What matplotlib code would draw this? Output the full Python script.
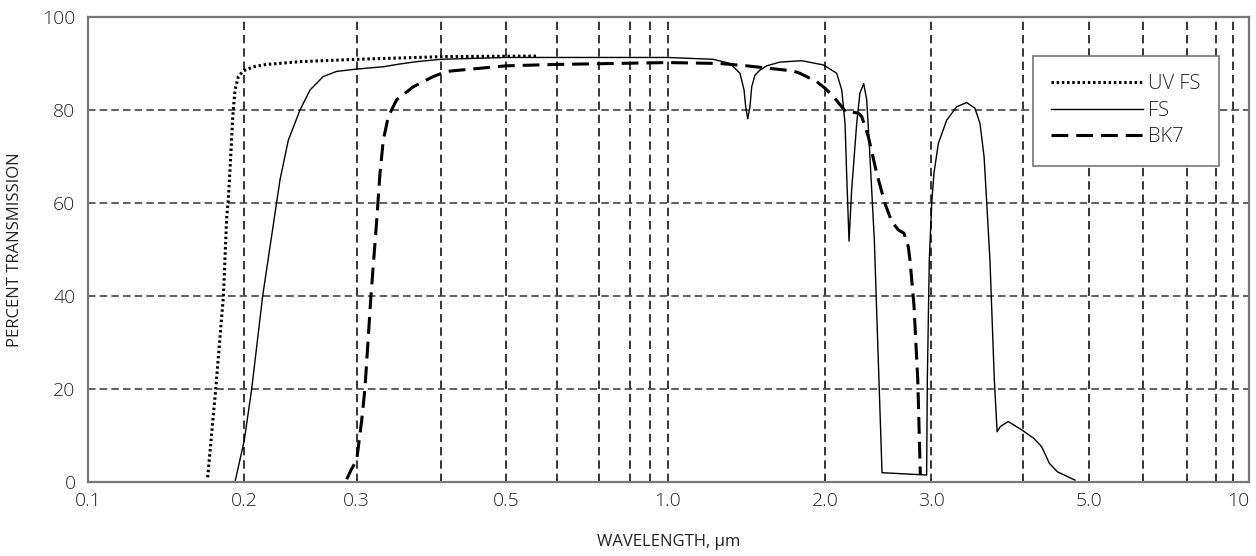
import numpy as np
import matplotlib
matplotlib.use("Agg")
import matplotlib.pyplot as plt
from matplotlib.scale import FuncScale

plt.rcParams['font.family'] = ['Open Sans', 'DejaVu Sans']
plt.rcParams['font.weight'] = 'light'

# transmission curves, wavelength in um / percent
uvfs_wl = [0.170, 0.1762, 0.1823, 0.1850, 0.1863, 0.1883, 0.1900, 0.1919, 0.1948, 0.1991,
           0.2066, 0.2168, 0.2445, 0.300, 0.4083, 0.5605]
uvfs_t = [1, 20, 40, 57, 60.6, 70, 78.6, 84.3, 87.2, 88.4,
          89.3, 89.8, 90.4, 90.9, 91.5, 91.6]

fs_wl = [0.1919, 0.200, 0.2054, 0.2137, 0.2226, 0.2275, 0.2344, 0.2445, 0.2535, 0.2659,
         0.2791, 0.300, 0.3286, 0.348, 0.3685, 0.400, 0.500, 1.000, 1.2226, 1.316,
         1.375, 1.400, 1.410, 1.423, 1.437, 1.448, 1.469, 1.502, 1.547, 1.640,
         1.805, 1.985, 2.091, 2.132, 2.159, 2.172, 2.192, 2.214, 2.257, 2.285,
         2.318, 2.345, 2.366, 2.390, 2.414, 2.486, 2.947, 2.955, 2.977, 3.004,
         3.025, 3.067, 3.148, 3.249, 3.352, 3.440, 3.495, 3.540, 3.570, 3.606,
         3.656, 3.688, 3.724, 3.818, 3.985, 4.148, 4.261, 4.375, 4.494, 4.771]
fs_t = [0, 9, 20, 40, 56.3, 65, 73.5, 80, 84.3, 87.2,
        88.3, 88.8, 89.3, 89.9, 90.4, 90.9, 91.3, 91.3, 90.9, 90.0,
        87.9, 84.3, 80.7, 78.1, 80.7, 85.0, 87.5, 88.6, 89.5, 90.3,
        90.6, 89.7, 87.9, 84.3, 77.1, 66.4, 51.8, 62.8, 77.1, 83.6,
        85.7, 82.2, 73.5, 62.8, 52.0, 2.0, 1.5, 22, 47.7, 60,
        66.4, 72.8, 77.8, 80.7, 81.6, 80.4, 77.1, 70, 60, 47.7,
        21.9, 10.8, 11.9, 13.0, 11.2, 9.4, 7.6, 4.0, 2.2, 0.4]

bk7_wl = [0.2894, 0.294, 0.300, 0.3052, 0.3086, 0.315, 0.3213, 0.3249, 0.3286, 0.3343,
          0.3440, 0.3642, 0.390, 0.4083, 0.500, 0.600, 1.000, 1.259, 1.416, 1.737,
          1.791, 1.928, 2.000, 2.064, 2.132, 2.172, 2.214, 2.271, 2.301, 2.359,
          2.436, 2.514, 2.580, 2.646, 2.703, 2.748, 2.766, 2.808, 2.849, 2.877]
bk7_t = [0.6, 2.6, 4.7, 13.3, 20.1, 40, 56.3, 66.4, 73.5, 78.6,
         82.2, 85.0, 87.2, 88.3, 89.5, 89.8, 90.2, 90.0, 89.5, 88.4,
         87.9, 86.1, 84.7, 82.9, 80.7, 79.4, 79.6, 79.3, 78.6, 74.3,
         66.4, 59.9, 56.0, 54.2, 53.5, 50.6, 47.7, 38, 22, 1.7]

xtick_vals = [0.1, 0.2, 0.3, 0.5, 1.0, 2.0, 3.0, 5.0, 10]
xtick_labels = ["0.1", "0.2", "0.3", "0.5", "1.0", "2.0", "3.0", "5.0", "10"]
xgrid_vals = [0.2, 0.3, 0.4, 0.5, 0.6, 0.7, 0.8, 0.9, 1, 2, 3, 4, 5, 6, 7, 8, 9]

# the printed axis is not a true log axis: knots of its (uneven) spacing
knot_wl = np.log10([0.1, 0.2, 0.3, 0.4, 0.5, 0.6, 0.7, 0.8, 0.9, 1.0,
                    2, 3, 4, 5, 6, 7, 8, 9, 10])
knot_pos = np.array([88, 244.3, 356.7, 440.7, 506, 557, 599.3, 630, 650.3, 667.7,
                     825, 931.3, 1023, 1088.8, 1142.8, 1186.5, 1215.6, 1233.3, 1249.0])


def fwd(x):
    x = np.clip(np.asarray(x, dtype=float), 1e-3, None)
    return np.interp(np.log10(x), knot_wl, knot_pos, left=knot_pos[0] - 1, right=knot_pos[-1] + 1)


def inv(p):
    return 10 ** np.interp(p, knot_pos, knot_wl)


fig = plt.figure(figsize=(12.56, 5.56), dpi=100)
ax = fig.add_axes([88 / 1256, 1 - 482 / 556, (1249 - 88) / 1256, (482 - 17) / 556])
ax.set_xscale(FuncScale(ax.xaxis, (fwd, inv)))
ax.set_xlim(0.1, 10)
ax.set_ylim(0, 100)

for g in xgrid_vals:
    ax.axvline(g, color='black', lw=1.1, dashes=(5.5, 3.2), zorder=1)
for g in [20, 40, 60, 80]:
    ax.axhline(g, color='#444444', lw=1.2, dashes=(4.5, 2.5), zorder=1)

ax.plot(uvfs_wl, uvfs_t, color='black', lw=2.2, dashes=(0.8, 0.9), label='UV FS', zorder=3)
ax.plot(fs_wl, fs_t, color='black', lw=1.0, label='FS', zorder=3)
ax.plot(bk7_wl, bk7_t, color='black', lw=2.2, dashes=(5.5, 2.6), label='BK7', zorder=3)

ax.set_xticks(xtick_vals)
ax.set_xticklabels(xtick_labels)
ax.get_xticklabels()[-1].set_horizontalalignment('right')
ax.xaxis.set_minor_locator(matplotlib.ticker.NullLocator())
ax.set_yticks([0, 20, 40, 60, 80, 100])
ax.tick_params(length=0, labelsize=14, colors='#222222')
ax.tick_params(axis='x', pad=7.5)
ax.tick_params(axis='y', pad=9)

for s in ax.spines.values():
    s.set_color('#777777')
    s.set_linewidth(1.6)
    s.set_zorder(4)

ax.set_xlabel("WAVELENGTH, µm", fontsize=12, color='#222222', labelpad=17)
ax.set_ylabel("PERCENT TRANSMISSION", fontsize=12, color='#222222', labelpad=14)

leg = ax.legend(loc='upper right', bbox_to_anchor=(0.974, 0.916), fontsize=14.5,
                handlelength=4.6, handletextpad=0.25, labelspacing=0.33,
                borderpad=0.9, fancybox=False, framealpha=1, borderaxespad=0)
leg.get_frame().set_edgecolor('#777777')
leg.get_frame().set_linewidth(1.2)
for t in leg.get_texts():
    t.set_color('#222222')

fig.savefig("out.png", dpi=100)
